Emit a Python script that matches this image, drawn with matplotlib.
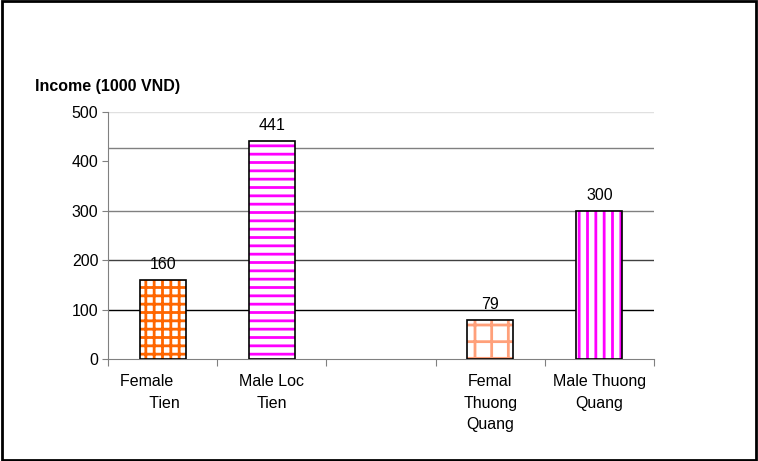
import matplotlib
matplotlib.use("Agg")
import numpy as np
from matplotlib import pyplot as plt
from matplotlib.patches import Rectangle

# data
groups = ["Female       \n Tien", "Male Loc\nTien", "", "Femal\nThuong\nQuang", "Male Thuong\nQuang"]
income = [160, 441, None, 79, 300]
hatches = ["++", "--", None, "+", "||"]
hatch_colors = ["#FF6600", "#FF00FF", None, "#FFA07A", "#FF00FF"]
y_ticks = [0, 100, 200, 300, 400, 500]
grid_levels = [100, 200, 300, 427, 500]
grid_colors = ["black", "#404040", "#808080", "#808080", "#e0e0e0"]

plt.rcParams["font.family"] = ["Liberation Sans", "DejaVu Sans"]
plt.rcParams["hatch.linewidth"] = 2.0

fig = plt.figure(figsize=(7.58, 4.61), dpi=100)
ax = fig.add_axes([0.1425, 0.2213, 0.7203, 0.5358])

# gridlines first so the bars sit on top
for lvl, col in zip(grid_levels, grid_colors):
    ax.axhline(lvl, color=col, lw=1, zorder=1)

x = np.arange(len(groups))
width = 0.42
for i, v in enumerate(income):
    if v is None:
        continue
    ax.bar(x[i], v, width, color="white", edgecolor=hatch_colors[i],
           hatch=hatches[i], linewidth=0, zorder=2)
    ax.bar(x[i], v, width, fill=False, edgecolor="black", linewidth=1.2, zorder=3)
    ax.text(x[i], v + 16, str(v), ha="center", va="bottom", fontsize=11.5)

ax.set_xlim(-0.5, len(groups) - 0.5)
ax.set_ylim(0, 500)
ax.set_yticks(y_ticks)
ax.tick_params(axis="y", labelsize=11.5, length=4, color="#808080", pad=3)

ax.set_xticks(np.arange(len(groups) + 1) - 0.5)
ax.set_xticklabels([])
ax.set_xticks(x, minor=True)
ax.set_xticklabels(groups, minor=True, fontsize=11.5, linespacing=1.55)
ax.tick_params(axis="x", which="major", length=5, color="#808080")
ax.tick_params(axis="x", which="minor", length=0, pad=11)

for s in ["top", "right"]:
    ax.spines[s].set_visible(False)
ax.spines["left"].set_color("#808080")
ax.spines["bottom"].set_color("#808080")

fig.text(35 / 758, 1 - 86 / 461, "Income (1000 VND)", fontsize=11.5,
         fontweight="bold", ha="left", va="center")

# outer frame
fig.patches.append(Rectangle((0.002, 0.003), 0.996, 0.994, transform=fig.transFigure,
                             fill=False, edgecolor="black", linewidth=2))

plt.savefig("out.png", dpi=100)
plt.close()
